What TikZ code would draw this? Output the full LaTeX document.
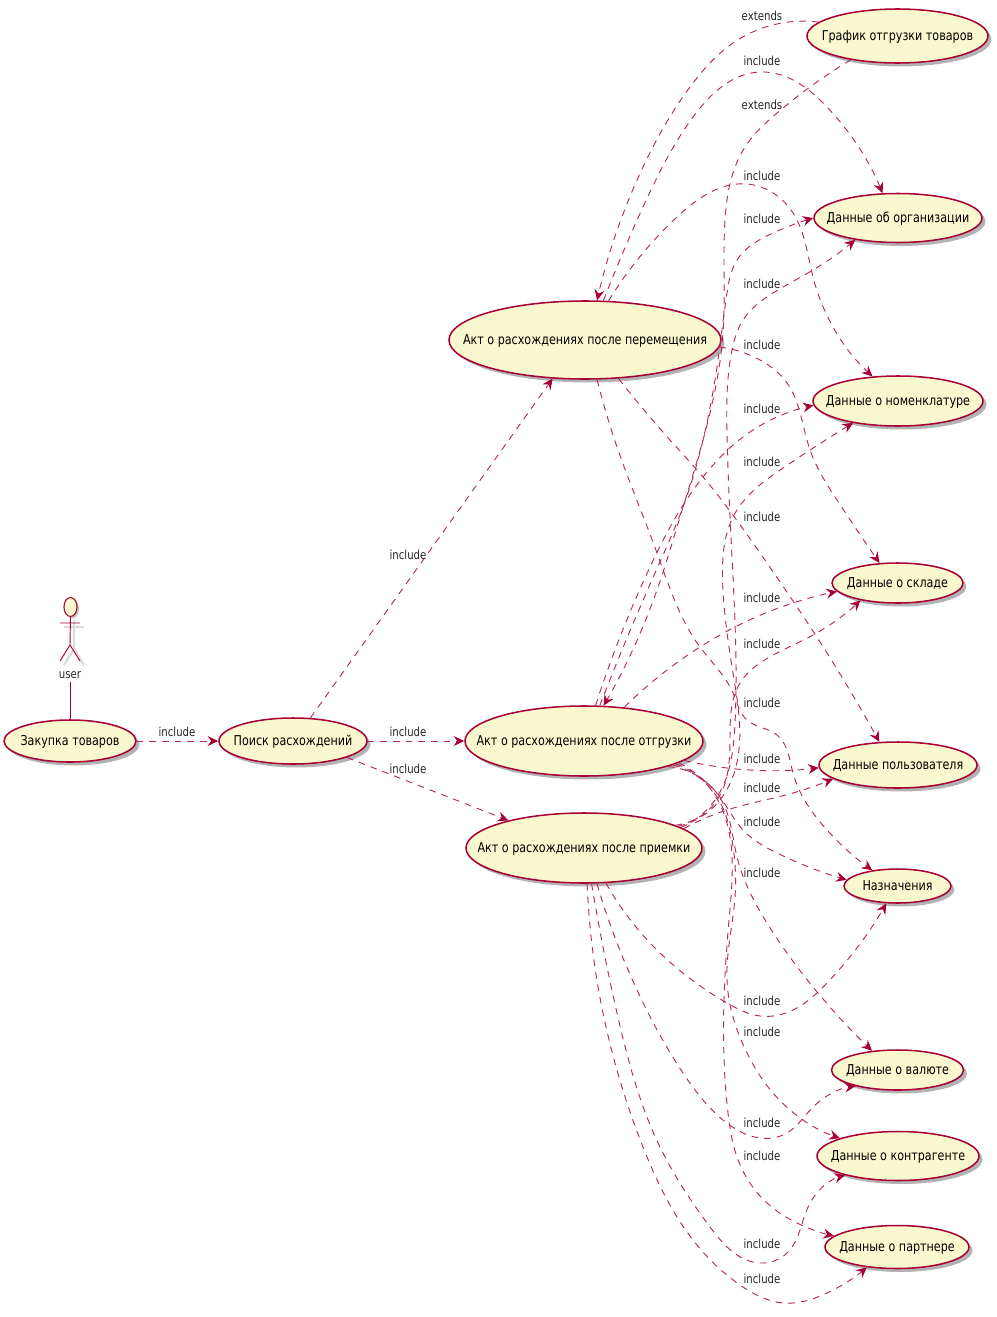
\documentclass[tikz,border=0pt]{standalone}
\usepackage{fontspec}
\setmainfont{DejaVu Sans}[FakeStretch=0.82]
\usetikzlibrary{shapes.geometric,arrows.meta,shadows,hobby}
\definecolor{umlred}{HTML}{A80036}
\definecolor{umlfill}{HTML}{FAF8CE}
\definecolor{umlline}{HTML}{B52A58}
\tikzset{
  usecase/.style={ellipse,draw=umlred,fill=umlfill,line width=1.15pt,inner sep=0pt,
    drop shadow={shadow xshift=2.6pt,shadow yshift=-2.6pt,fill=black!50,opacity=.6}},
  edge/.style={draw=umlline,line width=.7pt,dash pattern=on 5pt off 4.5pt,
    -{Stealth[length=8pt,width=7.5pt,inset=2.8pt,fill=umlred,color=umlred]},use Hobby shortcut},
  edgelabel/.style={inner sep=0pt,font=\fontsize{9.3}{11}\selectfont,text=black!85},
  stick/.style={draw=umlred,line width=.7pt},
  stickshadow/.style={draw=black!14,line width=1.8pt},
}
\newcommand{\uc}[6]{\node[usecase,minimum width=#4*1.5pt,minimum height=#5*1.5pt] (#1) at (#2,#3)
  {\makebox[0pt]{\raisebox{-.3em}[0pt][0pt]{\fontsize{10.2}{12}\selectfont #6}}};}
\newcommand{\inc}[3]{\node[edgelabel] (#1) at (#2,#3) {include};}
\begin{document}
\begin{tikzpicture}[x=.75pt,y=-.75pt]
\useasboundingbox (0,0) rectangle (996,1317);
% nodes
\uc{zak}{70}{741}{66}{21}{Закупка товаров}
\uc{poi}{293}{741}{74}{23}{Поиск расхождений}
\uc{per}{585}{340}{136}{39}{Акт о расхождениях после перемещения}
\uc{otg}{584}{741}{119}{35}{Акт о расхождениях после отгрузки}
\uc{prm}{584}{848}{118}{35}{Акт о расхождениях после приемки}
\uc{gr}{897.5}{36}{90.5}{27}{График отгрузки товаров}
\uc{org}{898}{218}{84}{24.5}{Данные об организации}
\uc{nom}{898}{401}{85}{25}{Данные о номенклатуре}
\uc{skl}{897.5}{583}{65.5}{20}{Данные о складе}
\uc{pol}{898}{765}{79}{23}{Данные пользователя}
\uc{naz}{897.5}{886}{53.5}{17}{Назначения}
\uc{val}{897.5}{1070}{66}{20}{Данные о валюте}
\uc{kon}{898}{1156}{81}{24.5}{Данные о контрагенте}
\uc{par}{897}{1247}{72}{21.5}{Данные о партнере}
% actor
\coordinate (hip) at (70,645);
\coordinate (armL) at (60,623);
\coordinate (armR) at (80,623);
\coordinate (legL) at (60,661);
\coordinate (legR) at (80,661);
\draw[stickshadow] (64,627) -- (84,627) (74,620) -- (74,649) -- (64,665) (74,649) -- (84,665);
\node[ellipse,draw=umlred,fill=umlfill,line width=.8pt,inner sep=0pt,minimum width=9.8pt,minimum height=14.2pt,
  drop shadow={shadow xshift=1.5pt,shadow yshift=-1.5pt,fill=black!45,opacity=.5}] (head) at (70.5,607) {};
\draw[stick] (head.south) -- (hip) (armL) -- (armR) (legL) -- (hip) -- (legR);
\node[edgelabel] (user) at (70,675) {user};
\draw[stick] (user.south) ++(0,3) -- (zak.north);
% left edges
\draw[edge] (zak.east) -- (poi.west);
\draw[edge] (poi.53) -- (per.230);
\draw[edge] (poi.east) -- (otg.west);
\draw[edge] (poi.-17.5) -- (prm.160);
% upper
\draw[edge] (gr.170) .. (733,43) .. (693,83) .. (643,167) .. (per.73);
\draw[edge] (per.65) .. (643,207) .. (693,117) .. (760,72) .. (827,107) .. (org.122);
\draw[edge] (per.59) .. (677,217) .. (747,184) .. (793,213) .. (813,277) .. (nom.136);
\draw[edge] (gr.207.8) .. (777,113) .. (745,147) .. (725,220) .. (723,333) .. (703,440) .. (680,517) .. (657,590) .. (otg.61);
\draw[edge] (otg.66.6) .. (655,573) .. (683,507) .. (703,440) .. (717,367) .. (727,293) .. (737,260) .. (773,233) .. (org.180);
\draw[edge] (otg.72.5) .. (650,567) .. (680,510) .. (703,477) .. (743,437) .. (777,417) .. (nom.183);
\draw[edge] (prm.12) .. (717,797) .. (735,723) .. (732,557) .. (727,433) .. (732,350) .. (743,320) .. (773,293) .. (813,270) .. (org.207.6);
\draw[edge] (prm.13) .. (720,800) .. (738,757) .. (733,673) .. (723,590) .. (723,557) .. (733,517) .. (747,497) .. (783,468) .. (nom.206.7);
\draw[edge] (per.-3) .. (760,360) .. (787,383) .. (810,450) .. (837,500) .. (skl.132);
\draw[edge] (per.-49) .. (670,440) .. (703,477) .. (760,553) .. (827,653) .. (pol.129);
\draw[edge] (per.-73) .. (617,447) .. (657,553) .. (700,647) .. (733,693) .. (747,720) .. (777,735) .. (793,773) .. (827,830) .. (naz.148);
% middle
\draw[edge] (otg.40) .. (700,647) .. (733,628) .. (793,603) .. (skl.188);
\draw[edge] (prm.14) .. (717,800) .. (730,740) .. (740,683) .. (777,653) .. (813,635) .. (skl.205);
\draw[edge] (otg.-11) .. (727,768) .. (pol.182);
\draw[edge] (prm.11) .. (727,810) .. (793,793) .. (pol.192.4);
\draw[edge] (otg.-14) .. (720,797) .. (743,830) .. (777,853) .. (naz.173.7);
\draw[edge] (otg.-17) .. (723,803) .. (737,857) .. (767,923) .. (813,987) .. (val.143);
\draw[edge] (otg.-15.5) .. (717,797) .. (732,840) .. (735,897) .. (727,980) .. (747,1053) .. (773,1093) .. (kon.163.6);
\draw[edge] (otg.-13) .. (716,797) .. (732,857) .. (729,920) .. (728,1113) .. (737,1157) .. (767,1203) .. (797,1223) .. (par.170);
% lower
\draw[edge] (prm.-58.6) .. (660,953) .. (727,1003) .. (760,1016) .. (793,1010) .. (827,983) .. (naz.237.8);
\draw[edge] (prm.-70) .. (637,990) .. (683,1073) .. (723,1120) .. (760,1138) .. (787,1133) .. (813,1107) .. (val.201);
\draw[edge] (prm.-78.7) .. (617,1013) .. (660,1147) .. (710,1227) .. (760,1263) .. (787,1253) .. (810,1203) .. (kon.200.4);
\draw[edge] (prm.-85) .. (603,1013) .. (643,1147) .. (693,1240) .. (743,1287) .. (783,1303) .. (827,1293) .. (par.214);
% labels
\inc{l1}{177}{732}
\inc{l2}{408}{555}
\inc{l3}{408}{732}
\inc{l4}{408}{769}
\node[edgelabel] (e1) at (762,16) {extends};
\inc{a1}{762}{61}
\node[edgelabel] (e2) at (762,105) {extends};
\inc{a2}{762}{176}
\inc{a3}{762}{219}
\inc{a4}{762}{284}
\inc{a5}{762}{345}
\inc{a6}{762}{409}
\inc{a7}{762}{462}
\inc{a8}{762}{517}
\inc{a9}{762}{598}
\inc{a10}{762}{644}
\inc{a11}{762}{703}
\inc{a12}{762}{759}
\inc{a13}{762}{788}
\inc{a14}{762}{822}
\inc{a15}{762}{873}
\inc{a16}{762}{1001}
\inc{a17}{762}{1032}
\inc{a18}{762}{1123}
\inc{a19}{762}{1156}
\inc{a20}{762}{1244}
\inc{a21}{762}{1279}
\end{tikzpicture}
\end{document}
